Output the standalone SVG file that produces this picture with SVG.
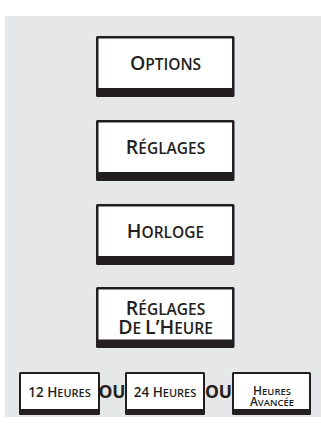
<svg xmlns="http://www.w3.org/2000/svg" width="321" height="428" viewBox="0 0 321 428">
<style>
.frame{fill:#231f20}
.inner{fill:#ffffff}
.t{font-family:"Open Sans","Liberation Sans",sans-serif;font-weight:600;fill:#231f20;text-anchor:middle}
.big{font-size:19.5px}
.sm{font-size:15.5px}
.b2{font-size:13.5px}
.s2{font-size:11px}
.b3{font-size:12px}
.s3{font-size:9.5px}
.ou{font-family:"Open Sans","Liberation Sans",sans-serif;font-weight:700;font-size:17.5px;fill:#231f20;text-anchor:middle}
</style>
<rect x="5" y="16" width="316" height="401" fill="#e6e7e8"/>
<g id="options">
<rect class="frame" x="96" y="36" width="138.5" height="61" rx="1.5"/>
<rect class="inner" x="98.5" y="38.5" width="133.5" height="49.5"/>
<text class="t" x="165.5" y="70"><tspan class="big">O</tspan><tspan class="sm">PTIONS</tspan></text>
</g>
<g id="reglages">
<rect class="frame" x="96" y="120" width="138.5" height="61" rx="1.5"/>
<rect class="inner" x="98.5" y="122.5" width="133.5" height="49.5"/>
<text class="t" x="165.5" y="154"><tspan class="big">R</tspan><tspan class="sm">ÉGLAGES</tspan></text>
</g>
<g id="horloge">
<rect class="frame" x="96" y="204" width="138.5" height="61" rx="1.5"/>
<rect class="inner" x="98.5" y="206.5" width="133.5" height="49.5"/>
<text class="t" x="165.5" y="238"><tspan class="big">H</tspan><tspan class="sm">ORLOGE</tspan></text>
</g>
<g id="reglages-heure">
<rect class="frame" x="96" y="287" width="138.5" height="61" rx="1.5"/>
<rect class="inner" x="98.5" y="289.5" width="133.5" height="50"/>
<text class="t"><tspan x="165.5" y="315"><tspan class="big">R</tspan><tspan class="sm">ÉGLAGES</tspan></tspan><tspan x="165.5" y="333.5"><tspan class="big">D</tspan><tspan class="sm">E </tspan><tspan class="big">L’H</tspan><tspan class="sm">EURE</tspan></tspan></text>
</g>
<g id="h12">
<rect class="frame" x="19" y="372" width="81" height="43" rx="1.5"/>
<rect class="inner" x="21" y="374" width="77" height="35"/>
<text class="t" x="59.5" y="397.3"><tspan class="b2">12 H</tspan><tspan class="s2">EURES</tspan></text>
</g>
<g id="h24">
<rect class="frame" x="125" y="372" width="80" height="43" rx="1.5"/>
<rect class="inner" x="127" y="374" width="76" height="35"/>
<text class="t" x="165" y="397.3"><tspan class="b2">24 H</tspan><tspan class="s2">EURES</tspan></text>
</g>
<g id="avancee">
<rect class="frame" x="232" y="372" width="79" height="43" rx="1.5"/>
<rect class="inner" x="234" y="374" width="75" height="35"/>
<text class="t"><tspan x="272" y="394.6"><tspan class="b3">H</tspan><tspan class="s3">EURES</tspan></tspan><tspan x="272" y="405.6"><tspan class="b3">A</tspan><tspan class="s3">VANCÉE</tspan></tspan></text>
</g>
<g id="connectors">
<text class="ou" x="112" y="398">OU</text>
<text class="ou" x="218.5" y="398">OU</text>
</g>
</svg>
